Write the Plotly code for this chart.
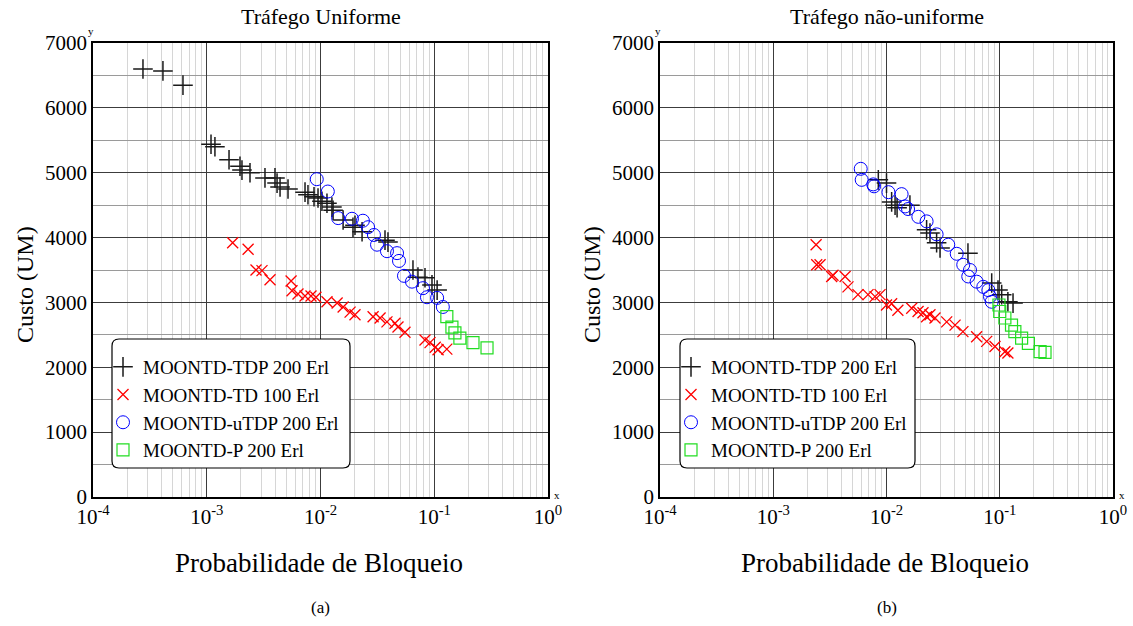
import plotly.graph_objects as go

# values
series_names = ["MOONTD-TDP 200 Erl", "MOONTD-TD 100 Erl", "MOONTD-uTDP 200 Erl", "MOONTD-P 200 Erl"]
panel_titles = ["Tráfego Uniforme", "Tráfego não-uniforme"]
panel_tags = ["(a)", "(b)"]
x_tick_vals = [1e-4, 1e-3, 1e-2, 1e-1, 1]
x_tick_text = ["10<sup>-4</sup>", "10<sup>-3</sup>", "10<sup>-2</sup>", "10<sup>-1</sup>", "10<sup>0</sup>"]

# (a) uniform traffic
left_tdp_x = [2.75e-4, 4.12e-4, 6.18e-4, 1.09e-3, 1.18e-3, 1.57e-3, 1.96e-3, 2.04e-3, 2.40e-3, 3.25e-3,
              3.98e-3, 4.15e-3, 4.41e-3, 5.18e-3, 7.31e-3, 7.76e-3, 8.77e-3, 9.51e-3, 1.03e-2, 1.14e-2,
              1.26e-2, 1.29e-2, 1.58e-2, 1.93e-2, 2.01e-2, 2.32e-2, 3.69e-2, 3.92e-2, 6.50e-2, 7.19e-2,
              8.29e-2, 9.55e-2, 1.06e-1]
left_tdp_y = [6600, 6570, 6350, 5440, 5400, 5200, 5100, 5040, 5000, 4920,
              4920, 4840, 4780, 4750, 4700, 4660, 4630, 4610, 4560, 4530,
              4470, 4420, 4270, 4160, 4190, 4090, 3960, 3930, 3500, 3390,
              3380, 3270, 3190]
left_td_x = [1.69e-3, 2.31e-3, 2.71e-3, 3.06e-3, 3.60e-3, 5.51e-3, 5.62e-3, 6.34e-3, 7.31e-3, 8.25e-3,
             9.12e-3, 1.14e-2, 1.40e-2, 1.58e-2, 1.82e-2, 2.01e-2, 2.90e-2, 3.34e-2, 3.84e-2, 4.52e-2,
             4.80e-2, 5.53e-2, 8.29e-2, 9.18e-2, 1.02e-1, 1.08e-1, 1.29e-1]
left_td_y = [3920, 3820, 3500, 3490, 3350, 3330, 3180, 3130, 3100, 3100,
             3080, 3010, 2990, 2930, 2850, 2810, 2780, 2760, 2700, 2680,
             2620, 2540, 2420, 2380, 2310, 2270, 2280]
left_utdp_x = [9.27e-3, 1.16e-2, 1.43e-2, 1.89e-2, 2.36e-2, 2.62e-2, 2.95e-2, 3.14e-2, 3.84e-2, 4.71e-2,
               4.90e-2, 5.42e-2, 6.37e-2, 7.96e-2, 8.63e-2, 1.06e-1, 1.19e-1]
left_utdp_y = [4900, 4710, 4300, 4290, 4260, 4160, 4040, 3890, 3790, 3760,
               3640, 3410, 3320, 3220, 3080, 3070, 2930]
left_p_x = [1.29e-1, 1.43e-1, 1.52e-1, 1.68e-1, 2.19e-1, 2.91e-1]
left_p_y = [2780, 2620, 2530, 2450, 2380, 2300]

# (b) non-uniform traffic
right_tdp_x = [8.47e-3, 1.00e-2, 1.11e-2, 1.19e-2, 1.24e-2, 1.61e-2, 2.26e-2, 2.42e-2, 2.77e-2, 2.97e-2,
               5.24e-2, 8.49e-2, 9.65e-2, 1.04e-1, 1.18e-1, 1.31e-1]
right_tdp_y = [4890, 4840, 4550, 4500, 4460, 4500, 4120, 4070, 3920, 3840,
               3760, 3300, 3190, 3120, 3010, 2990]
right_td_x = [2.39e-3, 2.42e-3, 2.59e-3, 3.28e-3, 3.37e-3, 4.31e-3, 4.57e-3, 5.60e-3, 6.87e-3, 7.92e-3,
              8.77e-3, 1.00e-2, 1.11e-2, 1.26e-2, 1.67e-2, 1.90e-2, 2.10e-2, 2.26e-2, 2.42e-2, 2.68e-2,
              3.40e-2, 4.03e-2, 4.73e-2, 6.25e-2, 7.67e-2, 9.08e-2, 1.11e-1, 1.18e-1]
right_td_y = [3890, 3580, 3580, 3400, 3420, 3400, 3240, 3120, 3120, 3090,
              3120, 2960, 2980, 2880, 2910, 2860, 2840, 2780, 2810, 2760,
              2700, 2650, 2550, 2470, 2400, 2320, 2240, 2220]
right_utdp_x = [5.92e-3, 6.04e-3, 7.64e-3, 7.76e-3, 1.04e-2, 1.36e-2, 1.46e-2, 1.55e-2, 1.91e-2, 2.26e-2,
                2.77e-2, 3.51e-2, 4.17e-2, 4.76e-2, 5.27e-2, 5.46e-2, 6.25e-2, 7.16e-2, 7.93e-2, 8.20e-2,
                8.49e-2]
right_utdp_y = [5060, 4890, 4820, 4790, 4700, 4670, 4480, 4440, 4320, 4250,
                4050, 3890, 3750, 3580, 3400, 3500, 3320, 3240, 3190, 3090,
                3010]
right_p_x = [9.84e-2, 1.00e-1, 1.11e-1, 1.27e-1, 1.36e-1, 1.56e-1, 1.79e-1, 2.27e-1, 2.51e-1]
right_p_y = [2960, 2860, 2760, 2650, 2550, 2450, 2370, 2240, 2230]

W, H = 1133, 626
FONT = "Liberation Serif, Times New Roman, serif"

styles = [
    dict(symbol="cross-thin-open", size=14, color="#1a1a1a", line=dict(width=1.5, color="#1a1a1a")),
    dict(symbol="x-thin-open", size=11, color="#ff0000", line=dict(width=1.3, color="#ff0000")),
    dict(symbol="circle-open", size=13, color="#0000ff", line=dict(width=1, color="#0000ff")),
    dict(symbol="square-open", size=12, color="#22dd22", line=dict(width=1.2, color="#22dd22")),
]

panels = [
    dict(xs=[left_tdp_x, left_td_x, left_utdp_x, left_p_x],
         ys=[left_tdp_y, left_td_y, left_utdp_y, left_p_y],
         xa="x", ya="y", legend="legend", px0=93, px1=548, box=(112, 350)),
    dict(xs=[right_tdp_x, right_td_x, right_utdp_x, right_p_x],
         ys=[right_tdp_y, right_td_y, right_utdp_y, right_p_y],
         xa="x2", ya="y2", legend="legend2", px0=660, px1=1113, box=(680, 915)),
]

fig = go.Figure()
for p in panels:
    for i in range(4):
        fig.add_trace(go.Scatter(
            x=p["xs"][i], y=p["ys"][i], mode="markers", name=series_names[i],
            marker=styles[i], xaxis=p["xa"], yaxis=p["ya"], legend=p["legend"],
            legendgroup=p["legend"] + str(i),
        ))

top_px, bot_px = 43, 497
ydom = [(H - bot_px) / H, (H - top_px) / H]

def xaxis_cfg(p):
    return dict(
        type="log", range=[-4, 0], domain=[p["px0"] / W, p["px1"] / W], anchor=p["ya"],
        automargin=False,
        tickvals=x_tick_vals, ticktext=x_tick_text, ticks="",
        tickfont=dict(family=FONT, size=21, color="black"),
        showgrid=True, gridcolor="#3c3c3c", gridwidth=1,
        minor=dict(dtick="D1", showgrid=True, gridcolor="#d6d6d6", gridwidth=1, ticks=""),
        showline=True, linecolor="black", linewidth=1.5, mirror=True, zeroline=False,
    )

def yaxis_cfg(p):
    return dict(
        range=[0, 7000], dtick=1000, domain=ydom, anchor=p["xa"],
        automargin=False,
        ticks="", tickfont=dict(family=FONT, size=21, color="black"),
        showgrid=True, gridcolor="#3c3c3c", gridwidth=1,
        minor=dict(dtick=500, showgrid=True, gridcolor="#9a9a9a", gridwidth=1, ticks=""),
        showline=True, linecolor="black", linewidth=1.5, mirror=True, zeroline=False,
    )

shapes = []
annotations = []
legends = {}
box_top, box_bot = 339, 468
r = 7
X = lambda v: v / W
Y = lambda v: (H - v) / H
for k, p in enumerate(panels):
    bx0, bx1 = p["box"]
    path = (f"M {X(bx0 + r)},{Y(box_top)} L {X(bx1 - r)},{Y(box_top)} Q {X(bx1)},{Y(box_top)} {X(bx1)},{Y(box_top + r)} "
            f"L {X(bx1)},{Y(box_bot - r)} Q {X(bx1)},{Y(box_bot)} {X(bx1 - r)},{Y(box_bot)} "
            f"L {X(bx0 + r)},{Y(box_bot)} Q {X(bx0)},{Y(box_bot)} {X(bx0)},{Y(box_bot - r)} "
            f"L {X(bx0)},{Y(box_top + r)} Q {X(bx0)},{Y(box_top)} {X(bx0 + r)},{Y(box_top)} Z")
    shapes.append(dict(type="path", path=path, xref="paper", yref="paper", layer="above",
                       fillcolor="white", line=dict(color="black", width=1.2)))
    legends[p["legend"]] = dict(
        x=X(bx0 - 9), y=Y(box_top + 9), xanchor="left", yanchor="top",
        bgcolor="rgba(0,0,0,0)", borderwidth=0, tracegroupgap=0,
        font=dict(family=FONT, size=19, color="black"),
    )
    cx = (p["px0"] + p["px1"]) / 2
    annotations += [
        dict(text=panel_titles[k], x=X(cx), y=Y(17), xref="paper", yref="paper", showarrow=False,
             font=dict(family=FONT, size=22, color="black"), xanchor="center", yanchor="middle"),
        dict(text="Probabilidade de Bloqueio", x=X(cx - 2), y=Y(563), xref="paper", yref="paper", showarrow=False,
             font=dict(family=FONT, size=27, color="black"), xanchor="center", yanchor="middle"),
        dict(text="Custo (UM)", x=X(p["px0"] - 68), y=Y(285), xref="paper", yref="paper", showarrow=False,
             textangle=-90, font=dict(family=FONT, size=24, color="black"), xanchor="center", yanchor="middle"),
        dict(text=panel_tags[k], x=X(cx), y=Y(607), xref="paper", yref="paper", showarrow=False,
             font=dict(family=FONT, size=17, color="black"), xanchor="center", yanchor="middle"),
        dict(text="y", x=X(p["px0"] - 2), y=Y(31), xref="paper", yref="paper", showarrow=False,
             font=dict(family=FONT, size=11, color="black"), xanchor="center", yanchor="middle"),
        dict(text="x", x=X(p["px1"] + 9), y=Y(495), xref="paper", yref="paper", showarrow=False,
             font=dict(family=FONT, size=11, color="black"), xanchor="center", yanchor="middle"),
    ]

fig.update_layout(
    width=W, height=H, margin=dict(l=0, r=0, t=0, b=0),
    paper_bgcolor="white", plot_bgcolor="white",
    xaxis=xaxis_cfg(panels[0]), yaxis=yaxis_cfg(panels[0]),
    xaxis2=xaxis_cfg(panels[1]), yaxis2=yaxis_cfg(panels[1]),
    shapes=shapes, annotations=annotations,
    **legends,
)

# drop the default page margin so the figure sits at the window's top-left corner
fig.write_html("out.html", config={"displayModeBar": False},
               post_script="document.body.style.margin='0';")
